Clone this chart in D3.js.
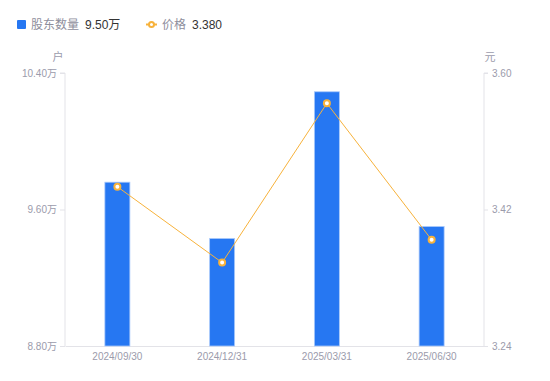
<!DOCTYPE html>
<html>
<head>
<meta charset="utf-8">
<script src="https://cdn.jsdelivr.net/npm/d3@7"></script>
<style>
  html, body { margin: 0; padding: 0; background: #fff; }
  body { font-family: "Liberation Sans", "Noto Sans CJK SC", sans-serif; }
</style>
</head>
<body>
<div id="chart"></div>
<script>
// 数据
const dates = ['2024/09/30', '2024/12/31', '2025/03/31', '2025/06/30'];
const holders = [9.76, 9.43, 10.29, 9.50];   // 股东数量（万户）
const prices = [3.45, 3.35, 3.56, 3.38];     // 价格（元）
const leftTicks = [8.80, 9.60, 10.40];
const rightTicks = [3.24, 3.42, 3.60];

const width = 550, height = 381;
const margin = { top: 73, right: 66, bottom: 35, left: 65 };
const barColor = '#2677f2';
const lineColor = '#f7b23b';
const axisColor = '#e3e3e8';
const labelColor = '#9b9bab';
const fontFamily = '"Liberation Sans", "Noto Sans CJK SC", sans-serif';

const svg = d3.select('#chart')
    .append('svg')
    .attr('width', width)
    .attr('height', height)
    .style('font-family', fontFamily);

// 比例尺
const x = d3.scaleBand()
    .domain(dates)
    .range([margin.left, width - margin.right]);

const yLeft = d3.scaleLinear()
    .domain([8.80, 10.40])
    .range([height - margin.bottom, margin.top]);

const yRight = d3.scaleLinear()
    .domain([3.24, 3.60])
    .range([height - margin.bottom, margin.top]);

const bottom = height - margin.bottom;
const barW = 25;

// 坐标轴
const leftAxis = svg.append('g')
    .attr('transform', `translate(${margin.left},0)`)
    .call(d3.axisLeft(yLeft).tickValues(leftTicks).tickSize(5).tickPadding(3)
        .tickFormat(d => d.toFixed(2) + '万'));

const rightAxis = svg.append('g')
    .attr('transform', `translate(${width - margin.right},0)`)
    .call(d3.axisRight(yRight).tickValues(rightTicks).tickSize(4).tickPadding(4)
        .tickFormat(d => d.toFixed(2)));

const xAxis = svg.append('g')
    .attr('transform', `translate(0,${bottom})`)
    .call(d3.axisBottom(x).tickSize(0).tickPadding(7));

[leftAxis, rightAxis, xAxis].forEach(g => {
    g.select('.domain').attr('stroke', axisColor);
    g.selectAll('.tick line').attr('stroke', axisColor);
    g.selectAll('.tick text')
        .attr('fill', labelColor)
        .style('font-size', '10px')
        .style('font-family', fontFamily);
});
leftAxis.select('.domain').attr('d', `M-5,${margin.top}H0V${bottom}`);
rightAxis.select('.domain').attr('d', `M4,${margin.top}H0V${bottom}`);

// 单位
svg.append('text')
    .attr('x', 58).attr('y', 61)
    .attr('text-anchor', 'middle')
    .attr('fill', labelColor)
    .style('font-size', '11px')
    .text('户');

svg.append('text')
    .attr('x', 490).attr('y', 61)
    .attr('text-anchor', 'middle')
    .attr('fill', labelColor)
    .style('font-size', '11px')
    .text('元');

// 柱子
svg.append('g')
    .selectAll('rect')
    .data(holders)
    .enter()
    .append('rect')
    .attr('x', (d, i) => x(dates[i]) + x.bandwidth() / 2 - barW / 2)
    .attr('y', d => yLeft(d))
    .attr('width', barW)
    .attr('height', d => bottom - yLeft(d))
    .attr('fill', barColor)
    .attr('stroke', '#a9c9fb')
    .attr('stroke-width', 0.8);

// 价格折线
const line = d3.line()
    .x((d, i) => x(dates[i]) + x.bandwidth() / 2)
    .y(d => yRight(d));

svg.append('path')
    .datum(prices)
    .attr('d', line)
    .attr('fill', 'none')
    .attr('stroke', lineColor)
    .attr('stroke-width', 1);

svg.append('g')
    .selectAll('circle')
    .data(prices)
    .enter()
    .append('circle')
    .attr('cx', (d, i) => x(dates[i]) + x.bandwidth() / 2)
    .attr('cy', d => yRight(d))
    .attr('r', 3)
    .attr('fill', '#fff')
    .attr('stroke', lineColor)
    .attr('stroke-width', 2);

// 图例
const legend = svg.append('g').style('font-size', '12px');
legend.append('rect')
    .attr('x', 17).attr('y', 20)
    .attr('width', 9).attr('height', 9)
    .attr('rx', 1)
    .attr('fill', barColor);
legend.append('text')
    .attr('x', 31).attr('y', 29)
    .attr('fill', '#8e8e9c')
    .text('股东数量');
legend.append('text')
    .attr('x', 85).attr('y', 29)
    .attr('fill', '#333')
    .text(holders[holders.length - 1].toFixed(2) + '万');

legend.append('line')
    .attr('x1', 146).attr('x2', 157)
    .attr('y1', 24.5).attr('y2', 24.5)
    .attr('stroke', lineColor)
    .attr('stroke-width', 2);
legend.append('circle')
    .attr('cx', 151.5).attr('cy', 24.5)
    .attr('r', 2.5)
    .attr('fill', '#fff')
    .attr('stroke', lineColor)
    .attr('stroke-width', 2);
legend.append('text')
    .attr('x', 162).attr('y', 29)
    .attr('fill', '#8e8e9c')
    .text('价格');
legend.append('text')
    .attr('x', 192).attr('y', 29)
    .attr('fill', '#333')
    .text(prices[prices.length - 1].toFixed(3));
</script>
</body>
</html>
